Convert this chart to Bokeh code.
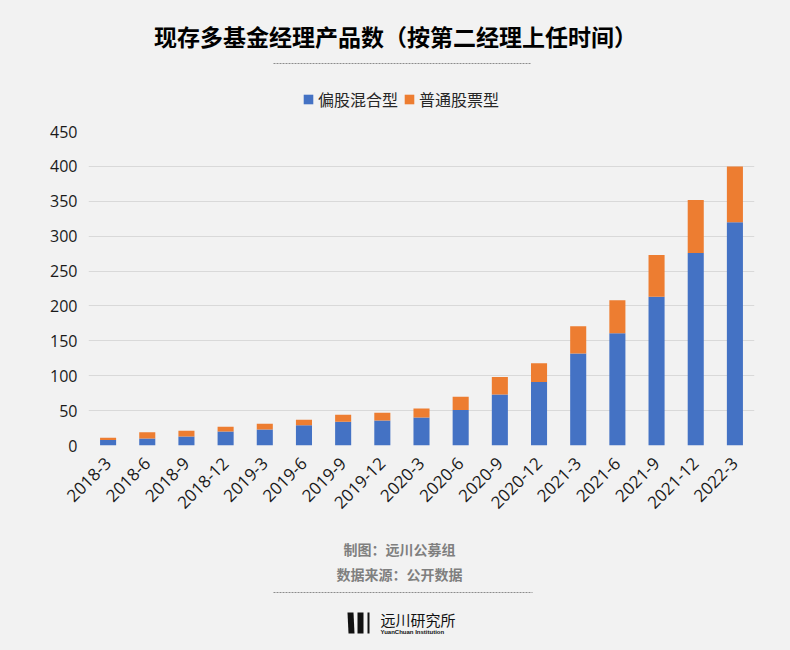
import math
from bokeh.plotting import figure
from bokeh.layouts import column
from bokeh.models import Range1d, Label, Arrow, PolyAnnotation, Legend, LegendItem
from bokeh.embed import file_html
from bokeh.resources import INLINE

months = ["2018-3", "2018-6", "2018-9", "2018-12", "2019-3", "2019-6", "2019-9", "2019-12",
          "2020-3", "2020-6", "2020-9", "2020-12", "2021-3", "2021-6", "2021-9", "2021-12", "2022-3"]
mixed = [8, 10, 13, 20, 23, 29, 34, 36, 40, 51, 73, 91, 132, 161, 213, 276, 320]
stock = [3, 9, 8, 7, 8, 8, 10, 11, 13, 19, 25, 27, 39, 47, 60, 76, 80]
series_names = ["偏股混合型", "普通股票型"]
series_colors = ["#4472C4", "#ED7D31"]
y_ticks = list(range(0, 451, 50))

title_text = "现存多基金经理产品数（按第二经理上任时间）"
credit_text = "制图：远川公募组"
source_text = "数据来源：公开数据"
logo_cn = "远川研究所"
logo_en = "YuanChuan Institution"

BG = "#f2f2f2"
CJK = "Noto Sans CJK SC"
W = 774
FL, FR = 88, 754            # frame left/right on the page (frames are aligned in the column)
TOP_H, MAIN_H, BOT_H = 115, 405, 114


def deco_fig(y0, y1):
    f = figure(width=W, height=y1 - y0, x_range=Range1d(FL, FR), y_range=Range1d(y1, y0),
               output_backend="svg", toolbar_location=None,
               x_axis_location=None, y_axis_location=None,
               min_border_left=FL, min_border_right=W - FR,
               min_border_top=0, min_border_bottom=0)
    f.background_fill_color = BG
    f.border_fill_color = BG
    f.outline_line_color = None
    f.grid.visible = False
    return f


def label(f, text, x, y, size, color, style="normal", font=CJK, align="center"):
    f.add_layout(Label(x=x, y=y, text=text, text_font=font, text_font_size=size,
                       text_color=color, text_font_style=style, text_align=align,
                       text_baseline="middle"))


def dashed(f, x0, x1, y):
    f.add_layout(Arrow(end=None, x_start=x0, y_start=y, x_end=x1, y_end=y,
                       line_color="#8c8c8c", line_width=1, line_dash="2 1"))


# ---- top: title, rule and legend ----
top = deco_fig(0, TOP_H)
label(top, title_text, 395, 35, "23px", "#000000", "bold")
dashed(top, 273, 531, 63)
# zero-size proxy glyphs that carry the series colours for the legend swatches
proxies = [top.vbar(x=[FL], width=0, top=[0], bottom=[0], fill_color=c, line_color=None)
           for c in series_colors]
lg = Legend(items=[LegendItem(label=n, renderers=[r]) for n, r in zip(series_names, proxies)])
lg.orientation = "horizontal"
lg.background_fill_alpha = 0
lg.border_line_color = None
lg.label_text_font = CJK
lg.label_text_font_size = "16px"
lg.label_text_color = "#262626"
lg.glyph_width = 12
lg.glyph_height = 12
lg.label_standoff = 4
lg.spacing = 5
lg.padding = 0
lg.margin = 0
lg.label_height = 20
lg.location = (302 - FL, 4)
top.add_layout(lg)

# ---- main chart ----
p = figure(width=W, height=MAIN_H, x_range=months, y_range=Range1d(0, 450),
           output_backend="svg", toolbar_location=None,
           min_border_left=FL, min_border_right=W - FR,
           min_border_top=16, min_border_bottom=75)
p.background_fill_color = BG
p.border_fill_color = BG
p.outline_line_color = None
p.x_range.range_padding = 0

data = {"months": months, "mixed": mixed, "stock": stock}
p.vbar_stack(["mixed", "stock"], x="months", width=0.41, source=data,
             color=series_colors, line_color=None)

p.xgrid.grid_line_color = None
p.ygrid.grid_line_color = "#d9d9d9"
p.ygrid.grid_line_width = 1
p.yaxis.ticker = y_ticks
for ax in (p.xaxis[0], p.yaxis[0]):
    ax.axis_line_color = None
    ax.major_tick_line_color = None
    ax.minor_tick_line_color = None
    ax.major_tick_in = 0
    ax.major_tick_out = 0
    ax.major_label_text_font = "Open Sans"
    ax.major_label_text_color = "#1a1a1a"
p.yaxis.major_label_text_font_size = "16px"
p.xaxis.major_label_text_font_size = "17px"
p.yaxis.major_label_standoff = 11
p.xaxis.major_label_standoff = 15
p.xaxis.major_label_orientation = math.pi / 4

# ---- bottom: credits and logo ----
bot = deco_fig(TOP_H + MAIN_H, TOP_H + MAIN_H + BOT_H)
label(bot, credit_text, 399, 548, "14px", "#7f7f7f", "bold")
label(bot, source_text, 399, 573, "14px", "#7f7f7f", "bold")
dashed(bot, 273, 532, 592)
for xs in ([347, 353, 354, 348], [357, 363, 363, 357], [367, 369, 369, 367]):
    bot.add_layout(PolyAnnotation(xs=xs, ys=[612, 612, 633, 633],
                                  fill_color="#111111", fill_alpha=1, line_color=None))
label(bot, logo_cn, 380, 619, "15px", "#111111", align="left")
label(bot, logo_en, 380, 631, "6px", "#111111", "bold", font="Liberation Sans", align="left")

layout = column(top, p, bot, spacing=0)
layout.styles = {"background-color": BG}
html = file_html(layout, INLINE)
html = html.replace("</head>", "<style>body{background:%s;}</style></head>" % BG, 1)
open("out.html", "w").write(html)
